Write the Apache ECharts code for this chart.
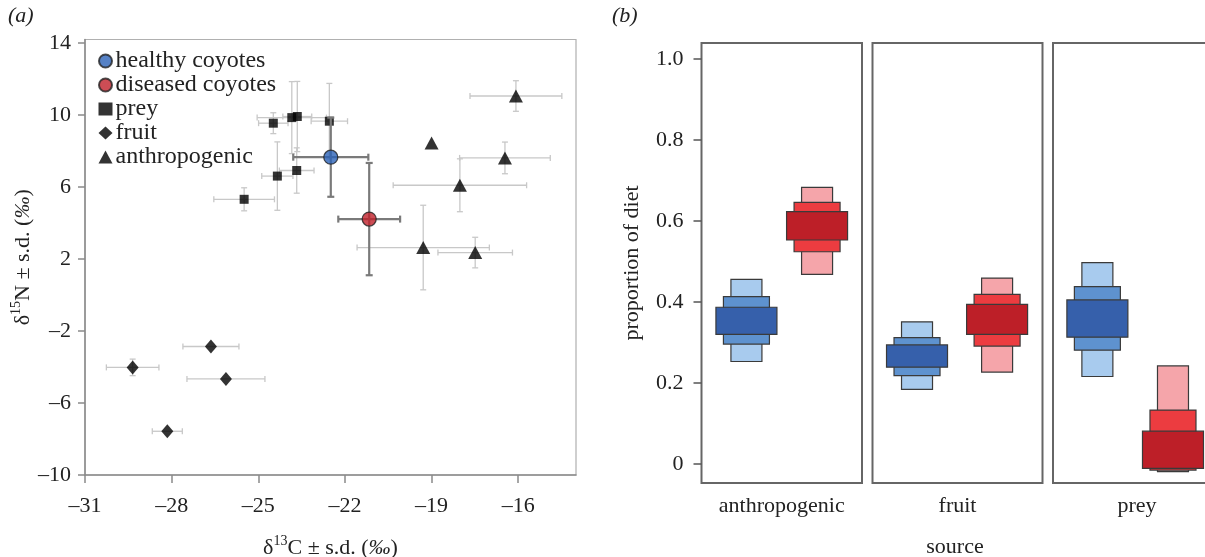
<!DOCTYPE html>
<html>
<head>
<meta charset="utf-8">
<script src="https://cdn.jsdelivr.net/npm/echarts@6/dist/echarts.min.js"></script>
<style>html,body{margin:0;padding:0;background:#fff}#c{width:1205px;height:557px}</style>
</head>
<body>
<div id="c"></div>
<script>
// ---------- Panel (a) data ----------
const preyX   = [-24.48, -23.84, -23.65, -22.54, -23.67, -24.34, -25.49];
const preyY   = [9.55, 9.86, 9.92, 9.66, 6.92, 6.61, 5.32];
const preySdX = [0.51, 1.2, 0.5, 0.63, 0.6, 0.54, 1.05];
const preySdY = [0.58, 2.0, 1.95, 2.1, 1.26, 1.9, 0.64];

const fruitX   = [-26.64, -29.35, -26.12, -28.15];
const fruitY   = [-2.86, -4.02, -4.66, -7.57];
const fruitSdX = [0.97, 0.91, 1.35, 0.52];
const fruitSdY = [0, 0.46, 0, 0];

const anthroX   = [-16.08, -19.0, -16.46, -18.02, -19.29, -17.49];
const anthroY   = [11.06, 8.45, 7.62, 6.1, 2.64, 2.36];
const anthroSdX = [1.59, 0, 1.57, 2.31, 2.29, 1.29];
const anthroSdY = [0.85, 0, 0.88, 1.47, 2.35, 0.85];

const coyoteNames = ['healthy coyotes', 'diseased coyotes'];
const coyoteX   = [-22.49, -21.16];
const coyoteY   = [7.66, 4.22];
const coyoteSdX = [1.30, 1.07];
const coyoteSdY = [2.2, 3.12];

const xTicksA = [-31, -28, -25, -22, -19, -16];
const yTicksA = [-10, -6, -2, 2, 6, 10, 14];

// ---------- Panel (b) data (credible intervals: 95%, 75%, 50%) ----------
const sources = ['anthropogenic', 'fruit', 'prey'];
const healthy95  = [[0.253, 0.456], [0.184, 0.351], [0.216, 0.497]];
const healthy75  = [[0.296, 0.413], [0.218, 0.312], [0.281, 0.438]];
const healthy50  = [[0.320, 0.387], [0.239, 0.294], [0.313, 0.405]];
const diseased95 = [[0.468, 0.683], [0.227, 0.459], [-0.019, 0.242]];
const diseased75 = [[0.524, 0.646], [0.291, 0.419], [-0.015, 0.133]];
const diseased50 = [[0.553, 0.623], [0.320, 0.394], [-0.011, 0.081]];
const yTicksB = [0, 0.2, 0.4, 0.6, 0.8, 1.0];

// ---------- helpers ----------
const FONT = 'Liberation Serif';
const TXT = '#222';
const zip = (...arrs) => arrs[0].map((_, i) => arrs.map(a => a[i]));
const dash = v => (v < 0 ? '\u2013' + Math.abs(v) : String(v));

function errRender(color, lw, cap) {
  return function (params, api) {
    const x = api.value(0), y = api.value(1), sx = api.value(2), sy = api.value(3);
    const st = { stroke: color, lineWidth: lw };
    const ch = [];
    const L = (x1, y1, x2, y2) => ch.push({ type: 'line', shape: { x1, y1, x2, y2 }, style: st });
    if (sx > 0) {
      const a = api.coord([x - sx, y]), b = api.coord([x + sx, y]);
      L(a[0], a[1], b[0], b[1]);
      L(a[0], a[1] - cap, a[0], a[1] + cap);
      L(b[0], b[1] - cap, b[0], b[1] + cap);
    }
    if (sy > 0) {
      const a = api.coord([x, y - sy]), b = api.coord([x, y + sy]);
      L(a[0], a[1], b[0], b[1]);
      L(a[0] - cap, a[1], a[0] + cap, a[1]);
      L(b[0] - cap, b[1], b[0] + cap, b[1]);
    }
    return { type: 'group', children: ch };
  };
}

const boxWidths = [31, 46, 61];
const boxColors = [
  ['#a8cbee', '#5e92cf', '#3660ab'],
  ['#f5a5aa', '#ec3c40', '#bd1f28']
];
function boxRender(params, api) {
  const pos = api.value(0), lo = api.value(1), hi = api.value(2);
  const lvl = api.value(3), grp = api.value(4);
  const t = api.coord([pos, hi]), b = api.coord([pos, lo]);
  const w = boxWidths[lvl];
  return {
    type: 'rect',
    shape: { x: t[0] - w / 2, y: t[1], width: w, height: b[1] - t[1] },
    style: { fill: boxColors[grp][lvl], stroke: '#3a3a3a', lineWidth: 1.2 }
  };
}
function facetData(i) {
  const H = [healthy95, healthy75, healthy50], D = [diseased95, diseased75, diseased50];
  const out = [];
  for (let l = 0; l < 3; l++) {
    out.push([0, H[l][i][0], H[l][i][1], l, 0]);
    out.push([1, D[l][i][0], D[l][i][1], l, 1]);
  }
  return out;
}

const richSup = {
  n: { fontFamily: FONT, fontSize: 22, color: TXT, lineHeight: 28 },
  s: { fontFamily: FONT, fontSize: 14, color: TXT, lineHeight: 14, verticalAlign: 'top' },
  i: { fontFamily: FONT, fontSize: 22, color: TXT, lineHeight: 28, fontStyle: 'italic' }
};

// facet layout
const facets = [
  { left: 701.5, width: 160.5, min: -0.636, max: 1.636 },
  { left: 872.5, width: 170, min: -0.556, max: 1.567 },
  { left: 1053, width: 168, min: -0.587, max: 1.635 }
];
const yMinB = -0.047, yMaxB = 1.0395;

const grids = [{ left: 85, top: 39.5, width: 491, height: 435.5, show: true, borderColor: '#b0b0b0', borderWidth: 1.2, outerBoundsMode: 'none', containLabel: false }]
  .concat(facets.map(f => ({ left: f.left, top: 43, width: f.width, height: 440, show: true, borderColor: '#666', borderWidth: 2, outerBoundsMode: 'none', containLabel: false })));

const xAxes = [{
  type: 'value', gridIndex: 0, min: -31, max: -14,
  axisLine: { show: true, onZero: false, lineStyle: { color: '#8a8a8a', width: 1.5 } },
  axisTick: { show: true, length: 8, customValues: xTicksA, lineStyle: { color: '#8a8a8a', width: 1.5 } },
  axisLabel: { customValues: xTicksA, formatter: dash, fontFamily: FONT, fontSize: 22, color: TXT, margin: 20 },
  splitLine: { show: false },
  name: '{n|\u03b4}{s|13}{n|C \u00b1 s.d. (}{i|\u2030}{n|)}',
  nameLocation: 'middle', nameGap: 59,
  nameTextStyle: { rich: richSup }
}].concat(facets.map((f, i) => ({
  type: 'value', gridIndex: i + 1, min: f.min, max: f.max,
  axisLine: { show: false, onZero: false }, axisTick: { show: false }, axisLabel: { show: false }, splitLine: { show: false },
  name: sources[i], nameLocation: 'middle', nameGap: 12,
  nameTextStyle: { fontFamily: FONT, fontSize: 22, color: TXT, verticalAlign: 'top' }
})));

const yAxes = [{
  type: 'value', gridIndex: 0, min: -10, max: 14.2,
  axisLine: { show: true, onZero: false, lineStyle: { color: '#8a8a8a', width: 1.5 } },
  axisTick: { show: true, length: 7, customValues: yTicksA, lineStyle: { color: '#8a8a8a', width: 1.5 } },
  axisLabel: { customValues: yTicksA, formatter: dash, fontFamily: FONT, fontSize: 22, color: TXT, margin: 14 },
  splitLine: { show: false },
  name: '{n|\u03b4}{s|15}{n|N \u00b1 s.d. (}{i|\u2030}{n|)}',
  nameLocation: 'middle', nameGap: 37, nameRotate: 90,
  nameTextStyle: { rich: richSup }
}].concat(facets.map((f, i) => ({
  type: 'value', gridIndex: i + 1, min: yMinB, max: yMaxB,
  show: i === 0,
  axisLine: { show: false, onZero: false },
  axisTick: { show: i === 0, length: 8, customValues: yTicksB, lineStyle: { color: '#555', width: 1.5 } },
  axisLabel: { show: i === 0, customValues: yTicksB, formatter: v => (v === 0 ? '0' : v.toFixed(1)),
    fontFamily: FONT, fontSize: 22, color: TXT, margin: 18 },
  splitLine: { show: false },
  name: i === 0 ? 'proportion of diet' : '',
  nameLocation: 'middle', nameGap: 58, nameRotate: 90,
  nameTextStyle: { fontFamily: FONT, fontSize: 22, color: TXT }
})));

const otherErr = zip(preyX, preyY, preySdX, preySdY)
  .concat(zip(fruitX, fruitY, fruitSdX, fruitSdY))
  .concat(zip(anthroX, anthroY, anthroSdX, anthroSdY));

const series = [
  { type: 'custom', name: 'err-sources', xAxisIndex: 0, yAxisIndex: 0, renderItem: errRender('#c8c8c8', 1.3, 3), data: otherErr, silent: true, z: 1 },
  { type: 'scatter', name: 'prey', xAxisIndex: 0, yAxisIndex: 0, symbol: 'rect', symbolSize: 9, itemStyle: { color: '#000' }, data: zip(preyX, preyY), z: 2 },
  { type: 'scatter', name: 'fruit', xAxisIndex: 0, yAxisIndex: 0, symbol: 'diamond', symbolSize: [12, 14], itemStyle: { color: '#000' }, data: zip(fruitX, fruitY), z: 2 },
  { type: 'scatter', name: 'anthropogenic', xAxisIndex: 0, yAxisIndex: 0, symbol: 'triangle', symbolSize: [14, 13], itemStyle: { color: '#000' }, data: zip(anthroX, anthroY), z: 2 },
  { type: 'custom', name: 'err-coyotes', xAxisIndex: 0, yAxisIndex: 0, renderItem: errRender('#7a7a7a', 2.2, 3.5), data: zip(coyoteX, coyoteY, coyoteSdX, coyoteSdY), silent: true, z: 3 },
  { type: 'scatter', name: coyoteNames[0], xAxisIndex: 0, yAxisIndex: 0, symbol: 'circle', symbolSize: 14, itemStyle: { color: '#2c63b8', borderColor: '#222', borderWidth: 1.3 }, data: [[coyoteX[0], coyoteY[0]]], z: 4 },
  { type: 'scatter', name: coyoteNames[1], xAxisIndex: 0, yAxisIndex: 0, symbol: 'circle', symbolSize: 14, itemStyle: { color: '#c0212b', borderColor: '#222', borderWidth: 1.3 }, data: [[coyoteX[1], coyoteY[1]]], z: 4 }
].concat(facets.map((f, i) => ({
  type: 'custom', name: 'diet-' + sources[i], xAxisIndex: i + 1, yAxisIndex: i + 1,
  renderItem: boxRender, data: facetData(i), silent: true
})));

const chart = echarts.init(document.getElementById('c'), null, { renderer: 'canvas' });
chart.setOption({
  animation: false,
  backgroundColor: '#fff',
  grid: grids,
  xAxis: xAxes,
  yAxis: yAxes,
  legend: {
    data: [coyoteNames[0], coyoteNames[1], 'prey', 'fruit', 'anthropogenic'],
    orient: 'vertical', left: 93, top: 44, itemWidth: 14, itemHeight: 13, itemGap: 0,
    selectedMode: false,
    textStyle: { fontFamily: FONT, fontSize: 24, lineHeight: 23, color: TXT, padding: [0, 0, 0, -2] }
  },
  graphic: [
    { type: 'text', left: 8, top: 5, style: { text: '(a)', font: 'italic 22px "Liberation Serif"', fill: TXT } },
    { type: 'text', left: 612, top: 5, style: { text: '(b)', font: 'italic 22px "Liberation Serif"', fill: TXT } },
    { type: 'text', x: 955, y: 547, style: { text: 'source', font: '22px "Liberation Serif"', fill: TXT, align: 'center', verticalAlign: 'middle' } }
  ],
  series: series
});
</script>
</body>
</html>
